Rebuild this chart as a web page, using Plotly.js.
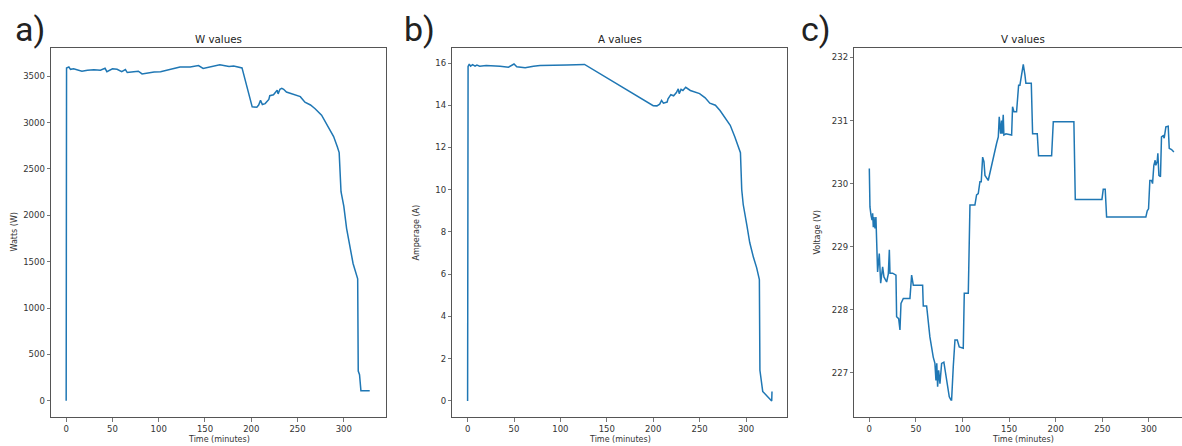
<!DOCTYPE html>
<html>
<head>
<meta charset="utf-8">
<script src="https://cdn.plot.ly/plotly-3.0.1.min.js"></script>
<style>
html,body{margin:0;padding:0;background:#fff;overflow:hidden;}
#chart{width:1182px;height:446px;}
</style>
</head>
<body>
<div id="chart"></div>
<script>
// ---- Data ----
const wTime = [0,0.4,2.9,4.7,8,12,17,23,30,37,42,44,50,55,60,64,66,73,78,82,87,95,102,109,116,123,134,143,148,156,166,176,181,190,201,206,208,210,212,215,219,220,224,228,229,231,233,235,238,253,258,264,269,276,283,289,293,295,297,300,303,307,310,315,315.6,317,318.5,328];
const wValues = [0,3590,3600,3575,3580,3570,3555,3565,3570,3565,3586,3550,3580,3575,3550,3572,3540,3550,3555,3525,3535,3545,3550,3565,3580,3600,3600,3615,3585,3600,3625,3605,3610,3590,3170,3165,3190,3240,3195,3205,3250,3290,3300,3350,3310,3360,3370,3360,3330,3280,3220,3190,3150,3080,2960,2850,2740,2676,2255,2100,1860,1630,1480,1315,320,280,108,108];

const aTime = [0,0.5,1.8,3.2,5.4,8,10,13,20,28,35,44,47,50,53,62,71,78,107,126,200,204,207,209,211,215,216,219,222,225,227,228,230,232,235,240,250,256,261,267,272,277,283,288,292,294,295.4,297,301,304,308,311.5,314.4,315,318,327.7,328];
const aValues = [0,15.84,15.95,15.85,15.92,15.85,15.9,15.85,15.88,15.87,15.85,15.8,15.88,15.95,15.82,15.78,15.85,15.88,15.9,15.93,13.98,13.97,14.05,14.23,14.1,14.15,14.3,14.5,14.45,14.6,14.78,14.55,14.75,14.7,14.85,14.7,14.55,14.35,14.1,14.0,13.75,13.45,13.05,12.5,12.0,11.75,10.0,9.3,8.3,7.5,6.8,6.3,5.75,1.45,0.45,0.0,0.45];

const vTime = [0,0.7,1.8,2.9,3.6,4.3,5,6.1,7.1,7.9,8.9,10.7,12.2,14.3,15.7,18.6,20.4,21.5,22.2,25,28.6,29.3,31.5,32.9,34,36.5,43.6,45.4,47.2,57.2,57.9,61.5,65,68.6,70.4,71.5,72.4,73.3,74.4,75.8,77.6,80,82.2,83.7,85.8,87.6,88.3,90.1,91.9,94.4,96.5,100.8,101.9,106.2,108,113.3,115.1,116.9,118.7,120.1,121.6,123,124.1,127.6,131.2,133.7,136.6,138.4,139.4,140.9,141.9,142.6,143.7,144.4,146.6,152.7,153.7,155.2,158,160.2,161.6,163.7,165.2,167,168,173.8,175.2,180.2,181.6,195.6,197.4,219.5,221,249.6,251,253.1,254.6,296.7,298.2,299.6,301,302.8,303.9,305.3,306.7,307.4,308.9,309.6,310.7,312.4,313.5,315.3,316.4,318.2,320.7,321.8,324.3,326.8];
const vValues = [230.24,229.63,229.5,229.42,229.53,229.31,229.47,229.29,229.47,228.89,228.6,228.89,228.42,228.68,228.52,228.44,228.57,228.95,228.58,228.58,228.55,227.89,227.86,227.68,228.1,228.18,228.18,228.55,228.39,228.39,228.06,228.06,227.57,227.25,227.15,226.88,227.15,226.78,227.04,226.83,227.15,227.17,226.94,226.78,226.62,226.57,226.57,227.1,227.52,227.52,227.41,227.39,228.26,228.26,229.66,229.66,229.82,229.84,230.03,230.03,230.42,230.35,230.13,230.05,230.32,230.45,230.64,230.74,231.06,230.79,231.0,230.79,231.09,230.77,230.79,230.77,231.22,231.14,231.14,231.56,231.56,231.77,231.89,231.72,231.59,231.59,230.79,230.79,230.44,230.44,230.98,230.98,229.75,229.75,229.91,229.91,229.47,229.47,229.57,229.6,230.05,230.05,230.0,230.29,230.37,230.29,230.35,230.48,230.13,230.11,230.74,230.76,230.72,230.9,230.91,230.56,230.54,230.5];

const xTicks = [0,50,100,150,200,250,300];
const wTicks = [0,500,1000,1500,2000,2500,3000,3500];
const aTicks = [0,2,4,6,8,10,12,14,16];
const vTicks = [227,228,229,230,231,232];

const panelTitles = ['W values','A values','V values'];
const yTitles = ['Watts (W)','Amperage (A)','Voltage (V)'];
const xTitle = 'Time (minutes)';
const panelLetters = ['a)','b)','c)'];

// ---- Layout helpers (pixel geometry) ----
const FIG_W = 1182, FIG_H = 446;
const BOX_TOP = 48, BOX_BOTTOM = 417;
const boxes = [[51,386],[452.3,787.3],[854.3,1182]];
const px = v => v / FIG_W;
const py = v => (FIG_H - v) / FIG_H;

const lineColor = '#1f77b4';
const spine = '#555';
const textColor = '#333';
const font = 'DejaVu Sans, sans-serif';

function makeX(i, range, mirror) {
  return {
    domain: [px(boxes[i][0]), px(boxes[i][1])],
    anchor: 'y' + (i ? i + 1 : ''),
    range: range, tickvals: xTicks, ticktext: xTicks.map(String),
    showgrid: false, zeroline: false,
    showline: true, mirror: mirror, linecolor: spine, linewidth: 1,
    ticks: 'outside', ticklen: 3.5, tickwidth: 0.8, tickcolor: spine,
    tickfont: {family: font, size: 8.5, color: textColor}
  };
}
function makeY(i, range, ticks, mirror) {
  return {
    domain: [py(BOX_BOTTOM), py(BOX_TOP)],
    anchor: 'x' + (i ? i + 1 : ''),
    range: range, tickvals: ticks, ticktext: ticks.map(String),
    showgrid: false, zeroline: false,
    showline: true, mirror: mirror, linecolor: spine, linewidth: 1,
    ticks: 'outside', ticklen: 3.5, tickwidth: 0.8, tickcolor: spine,
    tickfont: {family: font, size: 8.5, color: textColor}
  };
}

const traces = [
  {x: wTime, y: wValues, xaxis: 'x', yaxis: 'y'},
  {x: aTime, y: aValues, xaxis: 'x2', yaxis: 'y2'},
  {x: vTime, y: vValues, xaxis: 'x3', yaxis: 'y3'}
].map(t => Object.assign(t, {type: 'scatter', mode: 'lines', line: {color: lineColor, width: 1.5}, showlegend: false, hoverinfo: 'skip'}));

const annotations = [];
const yTitleX = [14, 416, 817];
const letterX = [30, 419.5, 815.5];
const centerX = [218.5, 619.8, 1023];
for (let i = 0; i < 3; i++) {
  annotations.push({text: panelTitles[i], xref: 'paper', yref: 'paper', x: px(centerX[i]), y: py(39), showarrow: false, xanchor: 'center', yanchor: 'middle', font: {family: font, size: 10.3, color: '#222'}});
  annotations.push({text: xTitle, xref: 'paper', yref: 'paper', x: px(centerX[i]), y: py(439), showarrow: false, xanchor: 'center', yanchor: 'middle', font: {family: font, size: 8, color: textColor}});
  annotations.push({text: yTitles[i], xref: 'paper', yref: 'paper', x: px(yTitleX[i]), y: py(232.5), textangle: -90, showarrow: false, xanchor: 'center', yanchor: 'middle', font: {family: font, size: 8, color: textColor}});
  annotations.push({text: panelLetters[i], xref: 'paper', yref: 'paper', x: px(letterX[i]), y: py(29), showarrow: false, xanchor: 'center', yanchor: 'middle', font: {family: 'Roboto, sans-serif', size: 34, color: '#222'}});
}

const layout = {
  width: FIG_W, height: FIG_H,
  margin: {l: 0, r: 0, t: 0, b: 0},
  paper_bgcolor: '#fff', plot_bgcolor: '#fff',
  showlegend: false,
  xaxis: makeX(0, [-16.4, 345.6], true),
  yaxis: makeY(0, [-176, 3805], wTicks, true),
  xaxis2: makeX(1, [-16.5, 344.5], true),
  yaxis2: makeY(1, [-0.76, 16.71], aTicks, true),
  xaxis3: makeX(2, [-16.1, 335.5], true),
  yaxis3: makeY(2, [226.30, 232.15], vTicks, false),
  annotations: annotations
};

Plotly.newPlot('chart', traces, layout, {staticPlot: true, displayModeBar: false});
</script>
</body>
</html>
